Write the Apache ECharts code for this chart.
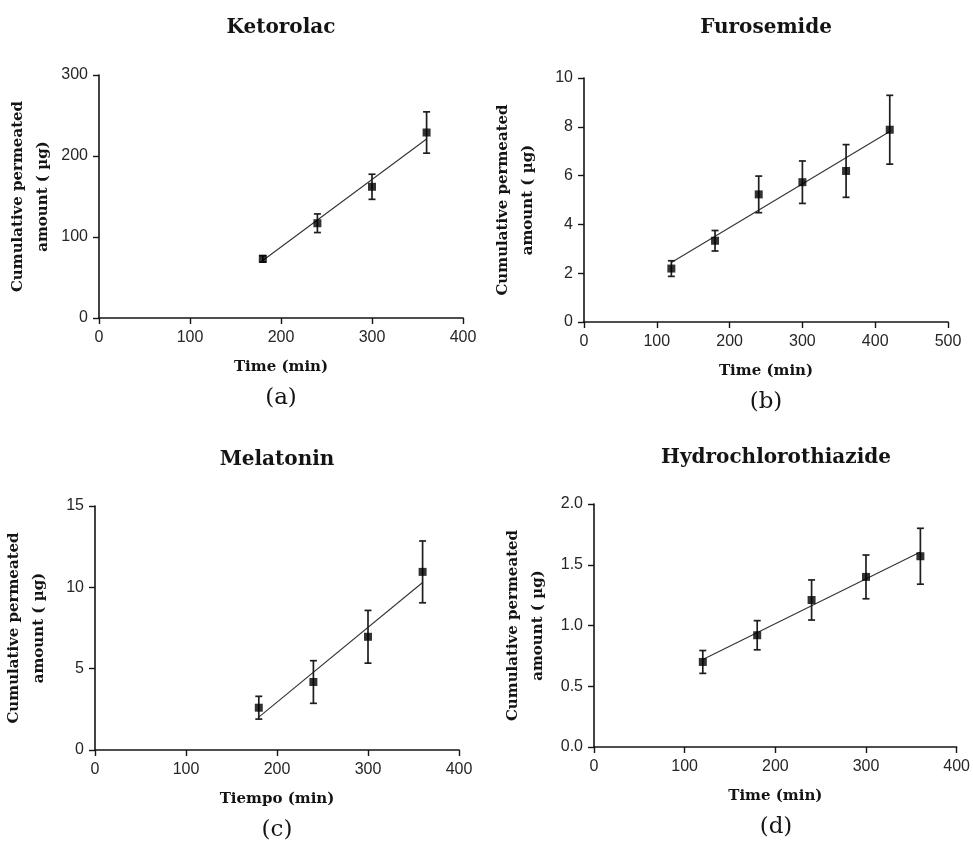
<!DOCTYPE html>
<html>
<head>
<meta charset="utf-8">
<title>Cumulative permeated amount</title>
<script src="https://cdn.jsdelivr.net/npm/echarts@6/dist/echarts.min.js"></script>
<style>
	html, body { margin: 0; padding: 0; background: #fff; }
	#chart { width: 973px; height: 846px; }
</style>
</head>
<body>
<div id="chart"></div>
<script>
// values (mean, sd, fitted line end points)
var ketorolacTime = [180, 240, 300, 360]
var ketorolacMean = [73, 117, 162, 229]
var ketorolacSd = [4, 11.5, 15.5, 25.5]
var ketorolacFit = [[180, 71], [360, 221]]

var furosemideTime = [120, 180, 240, 300, 360, 420]
var furosemideMean = [2.19, 3.33, 5.23, 5.73, 6.19, 7.88]
var furosemideSd = [0.32, 0.42, 0.75, 0.87, 1.08, 1.41]
var furosemideFit = [[120, 2.44], [420, 7.81]]

var melatoninTime = [180, 240, 300, 360]
var melatoninMean = [2.6, 4.18, 6.96, 10.95]
var melatoninSd = [0.7, 1.31, 1.62, 1.9]
var melatoninFit = [[180, 2.02], [360, 10.3]]

var hctzTime = [120, 180, 240, 300, 360]
var hctzMean = [0.7, 0.92, 1.21, 1.4, 1.57]
var hctzSd = [0.094, 0.12, 0.165, 0.18, 0.23]
var hctzFit = [[120, 0.72], [360, 1.605]]

var drugNames = ['Ketorolac', 'Furosemide', 'Melatonin', 'Hydrochlorothiazide']
var panelLetters = ['(a)', '(b)', '(c)', '(d)']
var xNames = ['Time (min)', 'Time (min)', 'Tiempo (min)', 'Time (min)']
var yName = 'Cumulative permeated\namount ( \u00b5g)'

var xMax = [400, 500, 400, 400]
var yMax = [300, 10, 15, 2]
var yStep = [100, 2, 5, 0.5]

var panels = [
	{ time: ketorolacTime, mean: ketorolacMean, sd: ketorolacSd, fit: ketorolacFit },
	{ time: furosemideTime, mean: furosemideMean, sd: furosemideSd, fit: furosemideFit },
	{ time: melatoninTime, mean: melatoninMean, sd: melatoninSd, fit: melatoninFit },
	{ time: hctzTime, mean: hctzMean, sd: hctzSd, fit: hctzFit },
]

// plot boxes
var grids = [
	{ left: 99, top: 75, width: 364, height: 243 },
	{ left: 584, top: 78, width: 364, height: 244 },
	{ left: 95, top: 506, width: 364, height: 244 },
	{ left: 594, top: 504, width: 364, height: 243 },
]
var titleY = [28, 28, 460, 458]

var ink = '#141414'
var serif = 'DejaVu Serif'
var sans = 'Liberation Sans'

var chart = echarts.init(document.getElementById('chart'))

var xAxes = []
var yAxes = []
var series = []
var graphics = []

panels.forEach(function(p, i) {
	var g = grids[i]
	var axisCommon = {
		gridIndex: i,
		type: 'value',
		min: 0,
		splitLine: { show: false },
		axisLine: { show: true, lineStyle: { color: ink, width: 1.6 } },
		axisTick: { show: true, length: 6, lineStyle: { color: ink, width: 1.4 } },
	}
	xAxes.push(Object.assign({}, axisCommon, {
		max: xMax[i],
		interval: 100,
		name: xNames[i],
		nameLocation: 'middle',
		nameGap: 42,
		nameTextStyle: { fontFamily: serif, fontWeight: 'bold', fontSize: 15, color: ink },
		axisLabel: { margin: 12, fontFamily: sans, fontSize: 16, color: '#262626' },
	}))
	yAxes.push(Object.assign({}, axisCommon, {
		max: yMax[i],
		interval: yStep[i],
		name: yName,
		nameLocation: 'middle',
		nameRotate: 90,
		nameGap: 43,
		nameTextStyle: { fontFamily: serif, fontWeight: 'bold', fontSize: 15, lineHeight: 25, color: ink },
		axisLabel: {
			margin: 11,
			fontFamily: sans,
			fontSize: 16,
			color: '#262626',
			formatter: i === 3 ? function(v) { return v.toFixed(1) } : null,
		},
	}))

	// fitted regression line
	series.push({
		type: 'line',
		xAxisIndex: i,
		yAxisIndex: i,
		data: p.fit,
		symbol: 'none',
		lineStyle: { color: '#333', width: 1.1 },
		z: 2,
		silent: true,
	})

	// error bars (mean ± sd)
	series.push({
		type: 'custom',
		xAxisIndex: i,
		yAxisIndex: i,
		data: p.time.map(function(t, k) {
			return [t, p.mean[k] - p.sd[k], p.mean[k] + p.sd[k]]
		}),
		encode: { x: 0, y: [1, 2] },
		renderItem: function(params, api) {
			var lo = api.coord([api.value(0), api.value(1)])
			var hi = api.coord([api.value(0), api.value(2)])
			var cap = 3.5
			var st = { stroke: '#1e1e1e', lineWidth: 1.7 }
			return {
				type: 'group',
				children: [
					{ type: 'line', shape: { x1: lo[0], y1: lo[1], x2: hi[0], y2: hi[1] }, style: st },
					{ type: 'line', shape: { x1: lo[0] - cap, y1: lo[1], x2: lo[0] + cap, y2: lo[1] }, style: st },
					{ type: 'line', shape: { x1: hi[0] - cap, y1: hi[1], x2: hi[0] + cap, y2: hi[1] }, style: st },
				],
			}
		},
		z: 3,
		silent: true,
	})

	// mean points
	series.push({
		type: 'scatter',
		xAxisIndex: i,
		yAxisIndex: i,
		data: p.time.map(function(t, k) { return [t, p.mean[k]] }),
		symbol: 'rect',
		symbolSize: 8,
		itemStyle: { color: '#000' },
		z: 4,
		silent: true,
	})

	var cx = g.left + g.width / 2
	graphics.push({
		type: 'text',
		x: cx,
		y: titleY[i],
		style: {
			text: drugNames[i],
			font: 'bold 20px "' + serif + '"',
			fill: ink,
			textAlign: 'center',
			textVerticalAlign: 'middle',
		},
	})
	graphics.push({
		type: 'text',
		x: cx,
		y: g.top + g.height + 80,
		style: {
			text: panelLetters[i],
			font: '23px "' + serif + '"',
			fill: ink,
			textAlign: 'center',
			textVerticalAlign: 'middle',
		},
	})
})

chart.setOption({
	animation: false,
	backgroundColor: '#fff',
	grid: grids,
	xAxis: xAxes,
	yAxis: yAxes,
	series: series,
	graphic: graphics,
})
</script>
</body>
</html>
